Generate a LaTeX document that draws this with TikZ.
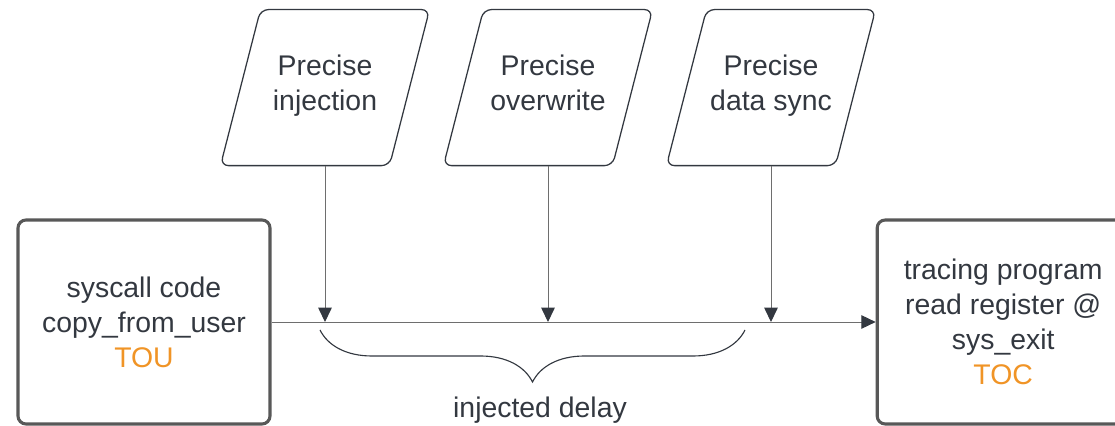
\documentclass[tikz,border=0pt]{standalone}
\usepackage{fontspec}
\setmainfont{Liberation Sans}
\usetikzlibrary{arrows.meta,decorations.pathreplacing}
\definecolor{boxgray}{RGB}{88,88,88}
\definecolor{inkgray}{RGB}{51,56,64}
\definecolor{tocorange}{RGB}{240,148,38}
\definecolor{wiregray}{RGB}{110,110,110}

\begin{document}
\begin{tikzpicture}
[font=\fontsize{20.2}{24.9}\selectfont, text=inkgray, line width=0.75pt,
stage/.style={rectangle, draw=boxgray, line width=2.2pt, rounded corners=0.2cm, minimum width=6.3cm, minimum height=5.1cm, align=center},
precise/.style={rectangle, inner sep=0pt, minimum width=4.2cm, minimum height=3.875cm, align=center},
slant/.style={draw=inkgray, line width=0.9pt, rounded corners=0.2cm},
wire/.style={draw=wiregray, line width=0.7pt},
hit/.style={wire, -{Triangle[length=0.36cm, width=0.34cm, color=inkgray]}}
]
\useasboundingbox (0,0) rectangle (27.875,10.65);

\node[stage] (tou) at (3.6,2.6) {syscall code\\copy\_from\_user\\\textcolor{tocorange}{TOU}};
\node[stage] (toc) at (25.08,2.6) {tracing program\\read register @\\sys\_exit\\\textcolor{tocorange}{TOC}};

\node[precise] (inject) at (8.125,8.46) {Precise\\injection\strut};
\node[precise] (overwrite) at (13.7,8.46) {Precise\\overwrite\strut};
\node[precise] (datasync) at (19.275,8.46) {Precise\\data sync\strut};

% slanted frames round the three inputs
\draw[slant] ([xshift=-0.5cm]inject.south west) -- ([xshift=0.5cm]inject.north west)
  -- ([xshift=0.5cm]inject.north east) -- ([xshift=-0.5cm]inject.south east) -- cycle;
\draw[slant] ([xshift=-0.5cm]overwrite.south west) -- ([xshift=0.5cm]overwrite.north west)
  -- ([xshift=0.5cm]overwrite.north east) -- ([xshift=-0.5cm]overwrite.south east) -- cycle;
\draw[slant] ([xshift=-0.5cm]datasync.south west) -- ([xshift=0.5cm]datasync.north west)
  -- ([xshift=0.5cm]datasync.north east) -- ([xshift=-0.5cm]datasync.south east) -- cycle;

\draw[hit] (tou.east) -- (toc.west);

\coordinate (j1) at (inject.center |- tou.east);
\coordinate (j2) at (overwrite.center |- tou.east);
\coordinate (j3) at (datasync.center |- tou.east);
\draw[hit] (inject.south) -- (j1);
\draw[hit] (overwrite.south) -- (j2);
\draw[hit] (datasync.south) -- (j3);

\coordinate (dl) at (8.0,2.4);
\coordinate (dr) at (18.625,2.4);
\draw[draw=inkgray, line width=0.8pt, decorate, decoration={brace, mirror, amplitude=1.3cm}] (dl) -- (dr);
\node (delay) at (13.5,0.4) {injected delay};
\end{tikzpicture}
\end{document}
